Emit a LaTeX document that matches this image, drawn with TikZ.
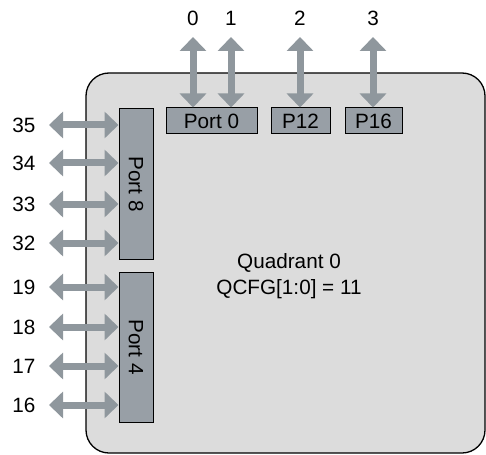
\documentclass[tikz,border=0pt]{standalone}
\usepackage{fontspec}
\setmainfont{Liberation Sans}
\usetikzlibrary{arrows.meta}
\definecolor{quadfill}{HTML}{DCDCDC}
\definecolor{portfill}{HTML}{989FA6}
\definecolor{arrowcol}{HTML}{8F979D}
\begin{document}
\begin{tikzpicture}[x=1pt,y=-1pt,
  every node/.style={font=\fontsize{20.7}{24}\selectfont, inner sep=0pt},
  portbox/.style={draw=black, line width=1pt, fill=portfill},
  biarrow/.style={draw=arrowcol, line width=7pt,
    {Triangle[width=26pt,length=14pt,fill=arrowcol]}-{Triangle[width=26pt,length=14pt,fill=arrowcol]}, shorten <=0pt, shorten >=0pt},
  numlabel/.style={}]
\useasboundingbox (0,0) rectangle (486,454);
% quadrant
\draw[line width=1.3pt, fill=quadfill, rounded corners=23pt] (86,73) rectangle (485,453);
% port boxes
\node[portbox, minimum width=91pt, minimum height=26pt] (p0) at (211.5,121) {Port 0};
\node[portbox, minimum width=59pt, minimum height=26pt] (p12) at (300.5,121) {P12};
\node[portbox, minimum width=57pt, minimum height=26pt] (p16) at (373.5,121) {P16};
\node[portbox, minimum width=34pt, minimum height=150pt] (p8) at (136,184) {};
\node[rotate=-90] (p8t) at (p8.center) {Port 8};
\node[portbox, minimum width=34pt, minimum height=150pt] (p4) at (136,347) {};
\node[rotate=-90] (p4t) at (p4.center) {Port 4};
% centre text
\node[align=center, font=\fontsize{20.7}{26}\selectfont] (qt) at (289,276) {Quadrant 0\\QCFG[1:0] = 11};
% top labels and arrows
\foreach \n/\x/\b in {0/193/p0, 1/231/p0, 2/300/p12, 3/373/p16}{
  \node (t\n) at (\x,18) {\n};
  \coordinate (ta\n) at (\x,37);
  \draw[biarrow] (ta\n) -- (ta\n |- \b.north);
}
% left labels and arrows
\foreach \n/\y/\b in {35/125/p8, 34/163/p8, 33/204/p8, 32/243/p8, 19/287/p4, 18/327/p4, 17/366/p4, 16/405/p4}{
  \node (l\n) at (24,\y) {\n};
  \coordinate (la\n) at (49,\y);
  \draw[biarrow] (la\n) -- (la\n -| \b.west);
}
\end{tikzpicture}
\end{document}
